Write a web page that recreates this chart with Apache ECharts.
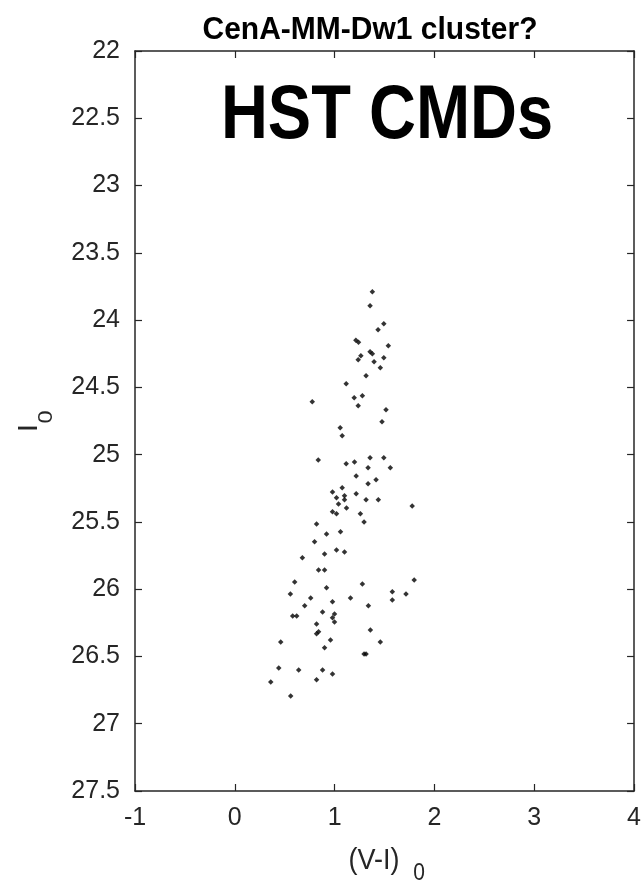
<!DOCTYPE html>
<html>
<head>
<meta charset="utf-8">
<script src="https://cdn.jsdelivr.net/npm/echarts@6/dist/echarts.min.js"></script>
<style>
html,body{margin:0;padding:0;background:#fff;}
#c{width:644px;height:882px;}
</style>
</head>
<body>
<div id="c"></div>
<script>
// (V-I)_0 colour values
var viColor = [
  1.378, 1.355, 1.493, 1.435, 1.213, 1.239, 1.538, 1.355, 1.378, 1.263,
  1.236, 1.493, 1.395, 1.458, 1.315, 1.116, 0.776, 1.196, 1.278, 1.236,
  1.515, 1.475, 1.056, 1.076,
  0.836, 1.116, 1.199, 1.355, 1.493, 1.335, 1.558, 1.216, 1.415, 1.335,
  1.076, 0.979, 1.216, 1.099, 1.019, 1.099, 1.315, 1.438, 1.039, 1.777,
  1.119, 0.979, 1.019, 1.258, 1.295, 0.819, 0.919, 1.059, 0.799, 1.019,
  1.099, 0.899, 0.677, 0.839, 0.899, 0.600, 1.797, 0.919, 1.278,
  0.557, 0.760, 0.979, 1.159, 1.578, 1.715, 1.578, 0.700, 1.338, 0.879,
  0.999, 0.580, 0.620, 0.979, 0.999, 0.819, 0.839, 0.819, 1.358, 0.959,
  0.460, 1.458, 0.899, 1.295, 1.315, 0.440, 0.640, 0.879, 0.979, 0.819,
  0.360, 0.560
];
// I_0 magnitudes
var iMag = [
  23.790, 23.894, 24.028, 24.072, 24.149, 24.164, 24.191, 24.236, 24.251, 24.265,
  24.295, 24.280, 24.310, 24.355, 24.414, 24.474, 24.607, 24.578, 24.563, 24.637,
  24.667, 24.756, 24.801, 24.860,
  25.039, 25.068, 25.054, 25.024, 25.024, 25.098, 25.098, 25.158, 25.187, 25.217,
  25.247, 25.277, 25.291, 25.306, 25.321, 25.336, 25.336, 25.336, 25.366, 25.381,
  25.396, 25.425, 25.440, 25.440, 25.500, 25.515, 25.589, 25.574, 25.648, 25.708,
  25.723, 25.738, 25.767, 25.857, 25.857, 25.946, 25.931, 25.990, 25.961,
  26.035, 26.065, 26.094, 26.065, 26.020, 26.035, 26.080, 26.124, 26.124, 26.169,
  26.184, 26.199, 26.199, 26.213, 26.243, 26.258, 26.317, 26.332, 26.303, 26.377,
  26.392, 26.392, 26.436, 26.481, 26.481, 26.585, 26.600, 26.600, 26.630, 26.674,
  26.689, 26.793
];
var xTicks = [-1, 0, 1, 2, 3, 4];
var yTicks = [22, 22.5, 23, 23.5, 24, 24.5, 25, 25.5, 26, 26.5, 27, 27.5];
var titleText = 'CenA-MM-Dw1 cluster?';
var bigText = 'HST CMDs';

var FONT = "'Liberation Sans', Arial, Helvetica, sans-serif";
var AX = '#262626';
var points = viColor.map(function (v, i) { return [v, iMag[i]]; });

function xAx(pos, showLabel) {
  return {
    type: 'value', position: pos,
    min: xTicks[0], max: xTicks[xTicks.length - 1], interval: 1,
    axisLine: { show: true, onZero: false, lineStyle: { color: AX, width: 1.5 } },
    axisTick: { show: true, inside: true, length: 7, lineStyle: { color: AX, width: 1.2 } },
    axisLabel: { show: showLabel, color: AX, fontSize: 25, fontFamily: FONT, margin: 15 },
    splitLine: { show: false }
  };
}
function yAx(pos, showLabel) {
  return {
    type: 'value', position: pos, inverse: true,
    min: yTicks[0], max: yTicks[yTicks.length - 1], interval: 0.5,
    axisLine: { show: true, onZero: false, lineStyle: { color: AX, width: 1.5 } },
    axisTick: { show: true, inside: true, length: 7, lineStyle: { color: AX, width: 1.2 } },
    axisLabel: { show: showLabel, color: AX, fontSize: 25, fontFamily: FONT, margin: 15 },
    splitLine: { show: false }
  };
}

var chart = echarts.init(document.getElementById('c'), null, { renderer: 'canvas' });
chart.setOption({
  animation: false,
  backgroundColor: '#fff',
  grid: { left: 135, right: 8, top: 51, bottom: 91, containLabel: false },
  xAxis: [xAx('bottom', true), xAx('top', false)],
  yAxis: [yAx('left', true), yAx('right', false)],
  series: [{
    type: 'scatter', xAxisIndex: 0, yAxisIndex: 0,
    data: points, symbol: 'diamond', symbolSize: 5.5,
    itemStyle: { color: '#000' }
  }],
  graphic: [
    { type: 'text', x: 370, y: 30, scaleY: 1.03, style: { text: titleText, fontSize: 30, fontWeight: 'bold', fontFamily: FONT, fill: '#000', align: 'center', verticalAlign: 'middle' } },
    { type: 'text', x: 387, y: 117, scaleY: 1.17, style: { text: bigText, fontSize: 65, fontWeight: 'bold', fontFamily: FONT, fill: '#000', align: 'center', verticalAlign: 'middle' } },
    { type: 'text', x: 374, y: 861, scaleY: 1.12, style: { text: '(V-I)', fontSize: 27, fontFamily: FONT, fill: AX, align: 'center', verticalAlign: 'middle' } },
    { type: 'text', x: 419, y: 874, scaleY: 1.12, style: { text: '0', fontSize: 21, fontFamily: FONT, fill: AX, align: 'center', verticalAlign: 'middle' } },
    { type: 'text', x: 30, y: 428, rotation: Math.PI / 2, scaleX: 1.12, style: { text: 'I', fontSize: 27, fontFamily: FONT, fill: AX, align: 'center', verticalAlign: 'middle' } },
    { type: 'text', x: 46, y: 417, rotation: Math.PI / 2, scaleX: 1.12, style: { text: '0', fontSize: 21, fontFamily: FONT, fill: AX, align: 'center', verticalAlign: 'middle' } }
  ]
});
</script>
</body>
</html>
